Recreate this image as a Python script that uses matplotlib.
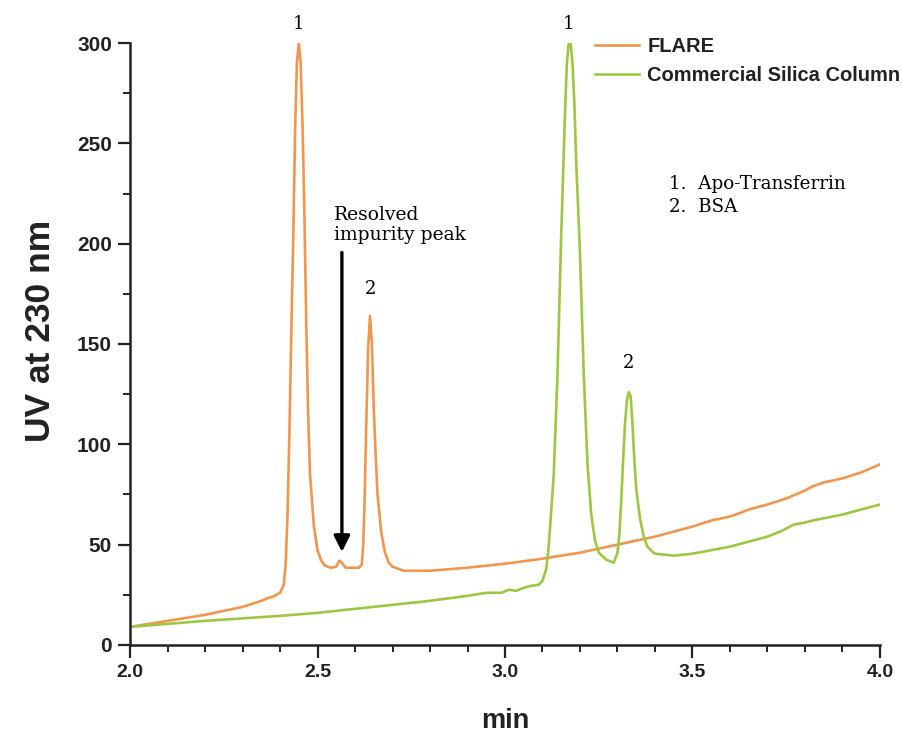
import matplotlib.pyplot as plt
from matplotlib.ticker import MultipleLocator

# FLARE trace (orange)
flare_t = [2.00, 2.10, 2.20, 2.30, 2.35, 2.37, 2.38, 2.40, 2.41, 2.415,
           2.42, 2.425, 2.43, 2.435, 2.44, 2.445, 2.45, 2.455, 2.46, 2.465,
           2.47, 2.475, 2.48, 2.49, 2.50, 2.51, 2.52, 2.535, 2.55, 2.558,
           2.565, 2.575, 2.60, 2.61, 2.618, 2.622, 2.626, 2.63, 2.635, 2.64,
           2.645, 2.65, 2.655, 2.66, 2.67, 2.68, 2.69, 2.70, 2.73, 2.80,
           2.90, 3.00, 3.10, 3.20, 3.30, 3.40, 3.50, 3.55, 3.60, 3.63,
           3.65, 3.70, 3.75, 3.80, 3.82, 3.85, 3.90, 3.95, 4.00]
flare_uv = [9, 12, 15, 19, 22, 23.5, 24, 26, 30, 40,
            65, 105, 155, 200, 255, 290, 300, 290, 260, 215,
            160, 115, 85, 60, 47, 42, 39.5, 38.5, 39, 42,
            41, 38.5, 38.5, 38.5, 40, 50, 75, 110, 148, 164,
            150, 118, 95, 75, 56, 46, 41, 39, 37, 37,
            38.5, 40.5, 43, 46, 50, 54, 59, 62, 64, 66,
            67.5, 70, 73, 77, 79, 81, 83, 86, 90]

# Commercial silica column trace (green)
silica_t = [2.00, 2.20, 2.40, 2.50, 2.60, 2.70, 2.80, 2.90, 2.95, 2.99,
            3.01, 3.03, 3.05, 3.07, 3.09, 3.10, 3.11, 3.115, 3.12, 3.13,
            3.14, 3.15, 3.16, 3.165, 3.17, 3.175, 3.18, 3.185, 3.19, 3.20,
            3.21, 3.22, 3.23, 3.24, 3.25, 3.27, 3.29, 3.30, 3.305, 3.31,
            3.315, 3.32, 3.325, 3.33, 3.335, 3.34, 3.345, 3.35, 3.36, 3.37,
            3.38, 3.39, 3.40, 3.45, 3.50, 3.60, 3.70, 3.74, 3.77, 3.80,
            3.82, 3.90, 4.00]
silica_uv = [9, 12, 14.5, 16, 18, 20, 22, 24.5, 26, 26,
             27.5, 27, 28.5, 29.5, 30, 32, 38, 46, 58, 85,
             135, 205, 265, 290, 300, 300, 290, 270, 240, 195,
             135, 90, 65, 52, 46, 42.5, 41, 46, 55, 72,
             92, 110, 122, 126, 124, 110, 92, 78, 63, 54,
             49, 47, 45.5, 44.5, 45.5, 49, 54, 57, 60, 61,
             62, 65, 70]

orange = "#F0964E"
green = "#9DC743"
dark = "#222222"

fig = plt.figure(figsize=(9.03, 7.34), dpi=100)
ax = fig.add_axes([0.144, 0.1213, 0.8305, 0.8201])

ax.plot(flare_t, flare_uv, color=orange, linewidth=1.9, label="FLARE")
ax.plot(silica_t, silica_uv, color=green, linewidth=1.9,
        label="Commercial Silica Column")

ax.set_xlim(2.0, 4.0)
ax.set_ylim(0, 300)
ax.xaxis.set_major_locator(MultipleLocator(0.5))
ax.xaxis.set_minor_locator(MultipleLocator(0.1))
ax.yaxis.set_major_locator(MultipleLocator(50))
ax.yaxis.set_minor_locator(MultipleLocator(25))

for side in ["top", "right"]:
    ax.spines[side].set_visible(False)
for side in ["left", "bottom"]:
    ax.spines[side].set_linewidth(1.8)
    ax.spines[side].set_color(dark)

ax.tick_params(which="major", length=9, width=1.6, color=dark, direction="out")
ax.tick_params(which="minor", length=5, width=1.4, color=dark, direction="out")
ax.xaxis.set_major_formatter(plt.FormatStrFormatter("%.1f"))
for lbl in ax.get_xticklabels():
    lbl.set_fontsize(14)
for lbl in ax.get_yticklabels():
    lbl.set_fontsize(15)
for lbl in ax.get_xticklabels() + ax.get_yticklabels():
    lbl.set_fontfamily("Liberation Sans")
    lbl.set_fontweight("bold")
    lbl.set_color(dark)
ax.tick_params(axis="x", pad=5)
ax.tick_params(axis="y", pad=4)

ax.set_xlabel("min", fontsize=19.5, fontweight="bold", family="Liberation Sans",
              color=dark, labelpad=19)
ax.set_ylabel("UV at 230 nm", fontsize=25.5, fontweight="bold",
              family="Liberation Sans", color=dark)
ax.yaxis.set_label_coords(-0.097, 0.522)

leg = ax.legend(loc="upper left", bbox_to_anchor=(595 / 903, 1 - 37 / 734),
                bbox_transform=fig.transFigure, frameon=False, borderpad=0,
                borderaxespad=0, handlelength=2.2, handletextpad=0.4,
                labelspacing=0.48,
                prop={"family": "Liberation Sans", "weight": "bold",
                      "size": 14.5})
for t in leg.get_texts():
    t.set_color(dark)

serif = "DejaVu Serif"
ax.text(2.45, 305, "1", ha="center", va="bottom", fontsize=13, family=serif)
ax.text(2.64, 173, "2", ha="center", va="bottom", fontsize=13, family=serif)
ax.text(3.17, 305, "1", ha="center", va="bottom", fontsize=13, family=serif)
ax.text(3.33, 136, "2", ha="center", va="bottom", fontsize=13, family=serif)
ax.text(2.545, 200, "Resolved\nimpurity peak", ha="left", va="bottom",
        fontsize=13.5, family=serif, linespacing=1.15)
ax.text(3.437, 234, "1.  Apo-Transferrin\n2.  BSA", ha="left", va="top",
        fontsize=13.2, family=serif, linespacing=1.3)

ax.annotate("", xy=(2.565, 45), xytext=(2.565, 197),
            arrowprops=dict(arrowstyle="-|>", color="black", lw=2.4,
                            mutation_scale=24))

fig.savefig("out.png", dpi=100)
